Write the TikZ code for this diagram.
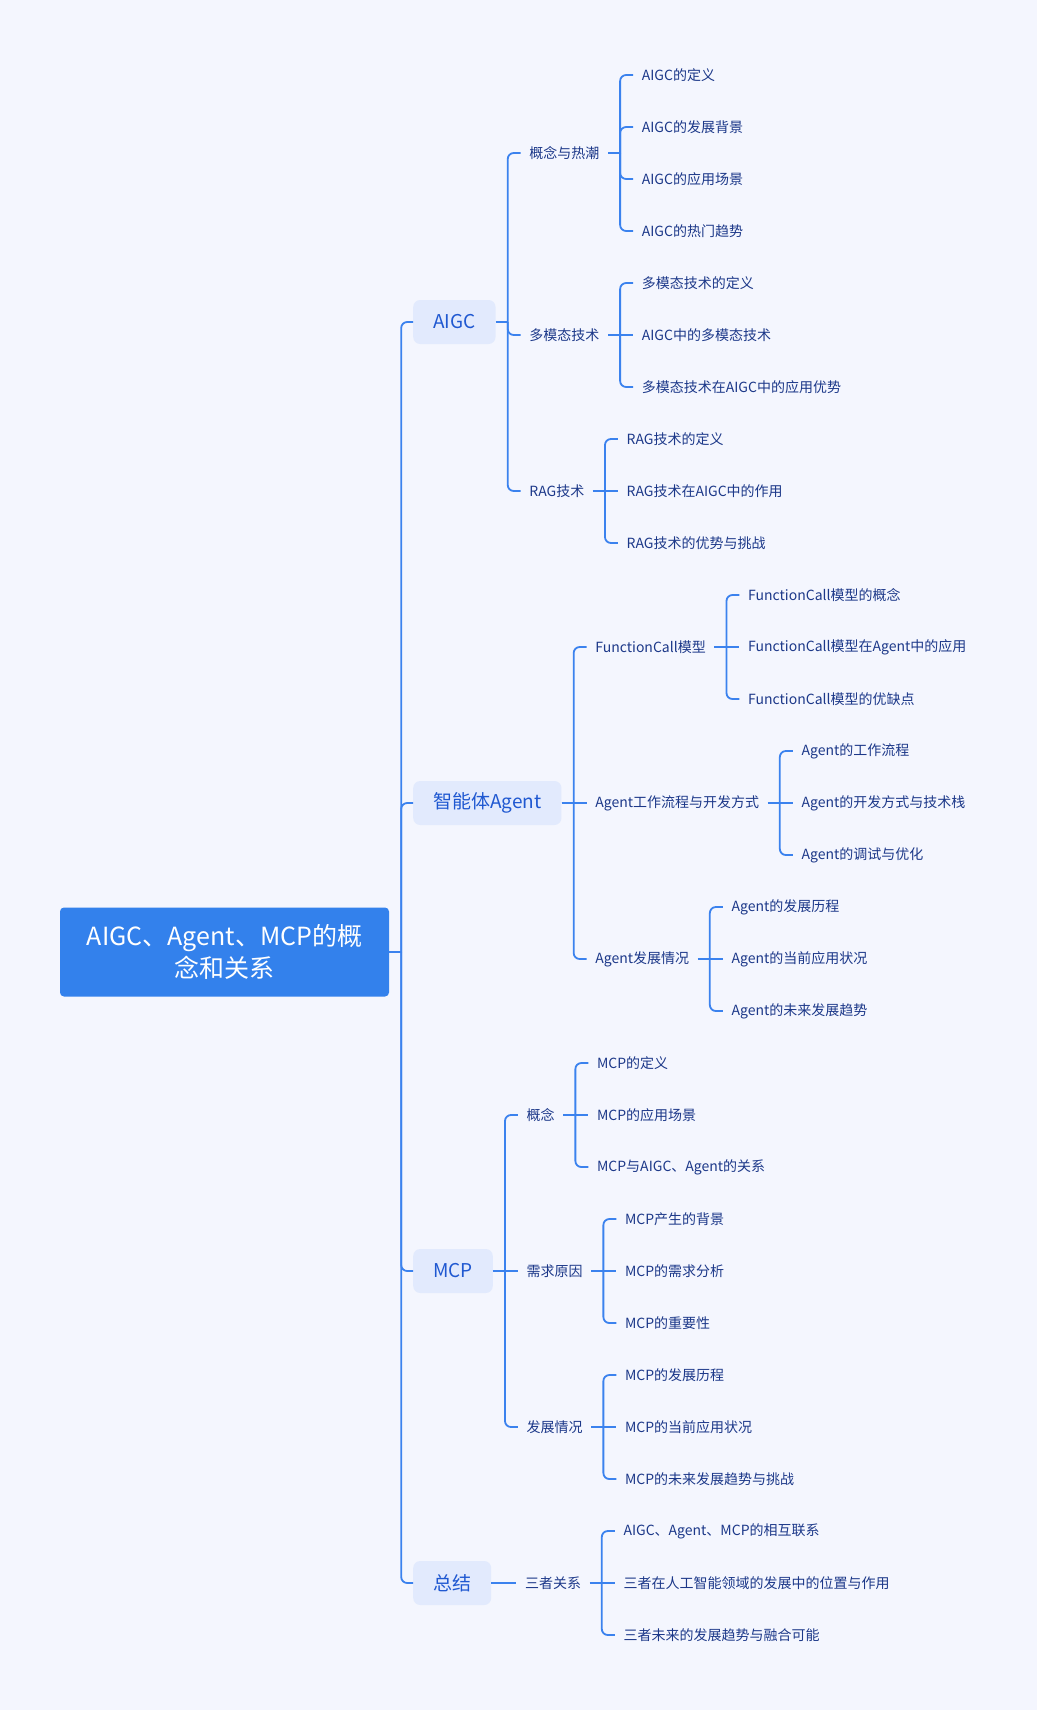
\documentclass[tikz,border=0pt]{standalone}
\usepackage{fontspec}
\newfontfamily\cjk{Noto Sans CJK SC}
\definecolor{bg}{HTML}{F4F6FE}
\definecolor{lc}{HTML}{3B82EE}
\definecolor{rootc}{HTML}{3381EC}
\definecolor{lonefill}{HTML}{E2EAFD}
\definecolor{lonetext}{HTML}{1F58D1}
\definecolor{navy}{HTML}{1C3889}
% parent stub + curved children
\newcommand\branch[2]{%
  \draw[conn] (#1.east) -- ([xshift=12pt]#1.east);
  \foreach \k in {#2}{\draw[conn] ([xshift=12pt]#1.east) |- (\k.west);}
}
% child on the same level as its parent
\newcommand\straight[2]{%
  \draw[conn, sharp corners] (#1.east) -- (#2.west);
}
\begin{document}
\begin{tikzpicture}[x=1pt,y=-1pt,
  conn/.style={draw=lc, line width=1.8pt, rounded corners=6pt},
  rootbox/.style={fill=rootc, rounded corners=4pt, text=white, font=\cjk\fontsize{25}{31.5}\selectfont, align=center, minimum width=329pt, minimum height=89pt, inner sep=0pt},
  lone/.style={fill=lonefill, rounded corners=7pt, text=lonetext, font=\cjk\fontsize{19}{22}\selectfont, minimum height=44pt, inner xsep=20pt, anchor=west},
  txt/.style={text=navy, font=\cjk\fontsize{14}{17}\selectfont, inner xsep=8.5pt, inner ysep=3pt, anchor=west}
]
\fill[bg] (0,0) rectangle (1037,1710);
\useasboundingbox (0,0) rectangle (1037,1710);

\node[rootbox] (root) at (224.5,952) {AIGC、Agent、MCP的概\\念和关系};

\node[lone] (a) at (413,322) {AIGC};
\node[lone] (b) at (413,803) {智能体Agent};
\node[lone] (c) at (413,1271) {MCP};
\node[lone] (d) at (413,1583) {总结};

% level 2
\coordinate (ax) at ([xshift=25pt]a.east);
\node[txt] (a1) at (ax |- 0,153) {概念与热潮};
\node[txt] (a2) at (ax |- 0,335) {多模态技术};
\node[txt] (a3) at (ax |- 0,491) {RAG技术};
\coordinate (bx) at ([xshift=25pt]b.east);
\node[txt] (b1) at (bx |- 0,647) {FunctionCall模型};
\node[txt] (b2) at (bx |- 0,803) {Agent工作流程与开发方式};
\node[txt] (b3) at (bx |- 0,959) {Agent发展情况};
\coordinate (cx) at ([xshift=25pt]c.east);
\node[txt] (c1) at (cx |- 0,1115) {概念};
\node[txt] (c2) at (cx |- 0,1271) {需求原因};
\node[txt] (c3) at (cx |- 0,1427) {发展情况};
\coordinate (dx) at ([xshift=25pt]d.east);
\node[txt] (d1) at (dx |- 0,1583) {三者关系};

% leaves
\coordinate (a1x) at ([xshift=25pt]a1.east);
\node[txt] (a11) at (a1x |- 0,75) {AIGC的定义};
\node[txt] (a12) at (a1x |- 0,127) {AIGC的发展背景};
\node[txt] (a13) at (a1x |- 0,179) {AIGC的应用场景};
\node[txt] (a14) at (a1x |- 0,231) {AIGC的热门趋势};
\coordinate (a2x) at ([xshift=25pt]a2.east);
\node[txt] (a21) at (a2x |- 0,283) {多模态技术的定义};
\node[txt] (a22) at (a2x |- 0,335) {AIGC中的多模态技术};
\node[txt] (a23) at (a2x |- 0,387) {多模态技术在AIGC中的应用优势};
\coordinate (a3x) at ([xshift=25pt]a3.east);
\node[txt] (a31) at (a3x |- 0,439) {RAG技术的定义};
\node[txt] (a32) at (a3x |- 0,491) {RAG技术在AIGC中的作用};
\node[txt] (a33) at (a3x |- 0,543) {RAG技术的优势与挑战};

\coordinate (b1x) at ([xshift=25pt]b1.east);
\node[txt] (b11) at (b1x |- 0,595) {FunctionCall模型的概念};
\node[txt] (b12) at (b1x |- 0,647) {FunctionCall模型在Agent中的应用};
\node[txt] (b13) at (b1x |- 0,699) {FunctionCall模型的优缺点};
\coordinate (b2x) at ([xshift=25pt]b2.east);
\node[txt] (b21) at (b2x |- 0,751) {Agent的工作流程};
\node[txt] (b22) at (b2x |- 0,803) {Agent的开发方式与技术栈};
\node[txt] (b23) at (b2x |- 0,855) {Agent的调试与优化};
\coordinate (b3x) at ([xshift=25pt]b3.east);
\node[txt] (b31) at (b3x |- 0,907) {Agent的发展历程};
\node[txt] (b32) at (b3x |- 0,959) {Agent的当前应用状况};
\node[txt] (b33) at (b3x |- 0,1011) {Agent的未来发展趋势};

\coordinate (c1x) at ([xshift=25pt]c1.east);
\node[txt] (c11) at (c1x |- 0,1063) {MCP的定义};
\node[txt] (c12) at (c1x |- 0,1115) {MCP的应用场景};
\node[txt] (c13) at (c1x |- 0,1167) {MCP与AIGC、Agent的关系};
\coordinate (c2x) at ([xshift=25pt]c2.east);
\node[txt] (c21) at (c2x |- 0,1219) {MCP产生的背景};
\node[txt] (c22) at (c2x |- 0,1271) {MCP的需求分析};
\node[txt] (c23) at (c2x |- 0,1323) {MCP的重要性};
\coordinate (c3x) at ([xshift=25pt]c3.east);
\node[txt] (c31) at (c3x |- 0,1375) {MCP的发展历程};
\node[txt] (c32) at (c3x |- 0,1427) {MCP的当前应用状况};
\node[txt] (c33) at (c3x |- 0,1479) {MCP的未来发展趋势与挑战};

\coordinate (d1x) at ([xshift=25pt]d1.east);
\node[txt] (d11) at (d1x |- 0,1531) {AIGC、Agent、MCP的相互联系};
\node[txt] (d12) at (d1x |- 0,1583) {三者在人工智能领域的发展中的位置与作用};
\node[txt] (d13) at (d1x |- 0,1635) {三者未来的发展趋势与融合可能};

% connectors
\branch{root}{a,b,c,d}
\branch{a}{a1,a2,a3}
\branch{b}{b1,b3}      \straight{b}{b2}
\branch{c}{c1,c3}      \straight{c}{c2}
\straight{d}{d1}
\branch{a1}{a11,a12,a13,a14}
\branch{a2}{a21,a23}   \straight{a2}{a22}
\branch{a3}{a31,a33}   \straight{a3}{a32}
\branch{b1}{b11,b13}   \straight{b1}{b12}
\branch{b2}{b21,b23}   \straight{b2}{b22}
\branch{b3}{b31,b33}   \straight{b3}{b32}
\branch{c1}{c11,c13}   \straight{c1}{c12}
\branch{c2}{c21,c23}   \straight{c2}{c22}
\branch{c3}{c31,c33}   \straight{c3}{c32}
\branch{d1}{d11,d13}   \straight{d1}{d12}
\end{tikzpicture}
\end{document}
